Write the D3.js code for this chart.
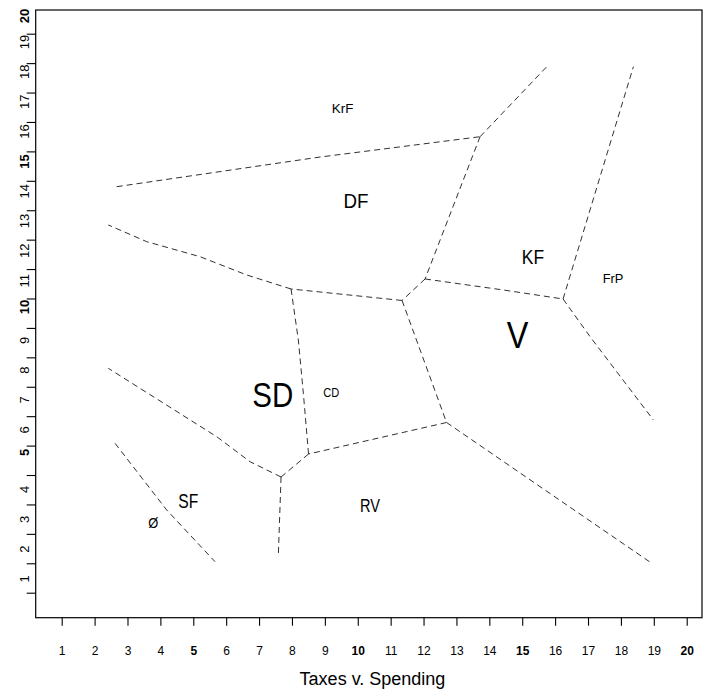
<!DOCTYPE html>
<html>
<head>
<meta charset="utf-8">
<script src="https://cdn.jsdelivr.net/npm/d3@7"></script>
<style>
  html, body { margin: 0; padding: 0; background: #fff; }
  svg { display: block; }
  text { font-family: "Liberation Sans", Arial, Helvetica, sans-serif; fill: #000; }
</style>
</head>
<body>
<svg id="chart" width="703" height="700"></svg>
<script>
// ---------- data (in axis units) ----------
const xTickValues = d3.range(1, 21);
const yTickValues = d3.range(1, 21);
const boldTicks = [5, 10, 15, 20];
const xTitle = "Taxes v. Spending";

// Voronoi-like party boundaries, each an array of [taxes, y] points
const edgeKrF_DF = [[2.672, 14.300], [8.793, 15.299], [13.718, 15.999]];
const edgeKrF_KF = [[13.718, 15.999], [15.746, 18.379]];
const edgeDF_KF  = [[13.718, 15.999], [12.046, 11.163]];
const edgeDF_V   = [[12.046, 11.163], [11.347, 10.432]];
const edgeKF_V   = [[12.046, 11.163], [14.427, 10.789], [16.242, 10.483]];
const edgeKF_FrP = [[16.242, 10.483], [18.379, 18.379]];
const edgeV_FrP  = [[16.242, 10.483], [17.063, 9.201], [18.987, 6.370]];
const edgeDF_CD  = [[11.347, 10.432], [7.972, 10.823]];
const edgeDF_SD  = [[7.972, 10.823], [6.625, 11.299], [5.205, 11.921], [3.584, 12.431], [2.417, 12.998]];
const edgeSD_CD  = [[7.972, 10.823], [8.194, 9.089], [8.346, 7.278], [8.504, 5.214]];
const edgeCD_V   = [[11.347, 10.432], [12.700, 6.285]];
const edgeCD_RV  = [[12.700, 6.285], [8.504, 5.214]];
const edgeV_RV   = [[12.700, 6.285], [18.939, 1.499]];
const edgeSD_RV  = [[8.504, 5.214], [7.668, 4.433]];
const edgeSF_RV  = [[7.668, 4.433], [7.586, 1.781]];
const edgeSD_SF  = [[7.668, 4.433], [6.725, 4.953], [5.713, 5.802], [2.417, 8.127]];
const edgeO_SF   = [[2.621, 5.578], [4.192, 3.311], [5.661, 1.554]];

const edges = [edgeKrF_DF, edgeKrF_KF, edgeDF_KF, edgeDF_V, edgeKF_V, edgeKF_FrP, edgeV_FrP,
               edgeDF_CD, edgeDF_SD, edgeSD_CD, edgeCD_V, edgeCD_RV, edgeV_RV, edgeSD_RV,
               edgeSF_RV, edgeSD_SF, edgeO_SF];

// party labels: name, position (axis units)
const partyNames = ["KrF", "DF", "KF", "FrP", "V", "SD", "CD", "SF", "RV", "Ø"];
const partyX     = [9.538, 9.948, 15.327, 17.762, 14.859, 7.418, 9.197, 4.849, 10.374, 3.785];
const partyY     = [16.805, 13.566, 11.673, 11.037, 8.807, 6.822, 7.162, 3.369, 3.253, 2.689];

// ---------- styles ----------
const labelStyle = {
  "KrF": { size: 12.5, width: 21.6 },
  "DF":  { size: 21,   width: 25 },
  "KF":  { size: 19.5, width: 22.3 },
  "FrP": { size: 13,   width: 20.7 },
  "V":   { size: 37,   width: 21.6 },
  "SD":  { size: 35,   width: 41 },
  "CD":  { size: 13.5, width: 16 },
  "SF":  { size: 20,   width: 20 },
  "RV":  { size: 18.6, width: 20 },
  "Ø":   { size: 14.5, width: 10 }
};

const box = { left: 35.7, top: 10, right: 702, bottom: 617.7 };

// ---------- scales ----------
const x = d3.scaleLinear().domain([1, 20]).range([61.7, 686.7]);
const y = d3.scaleLinear().domain([0.5, 19.5]).range([592.7, 33.7]);
// tick label placement scales (labels in the original are offset from the tick marks)
const yLab = d3.scaleLinear().domain([1, 19]).range([579, 42]);
const yLabBold = d3.scaleLinear().domain([5, 20]).range([452.5, 16]);

const svg = d3.select("#chart");

// frame
svg.append("rect")
  .attr("x", box.left).attr("y", box.top)
  .attr("width", box.right - box.left).attr("height", box.bottom - box.top)
  .attr("fill", "none").attr("stroke", "#000").attr("stroke-width", 1.2);

// x axis
const xAxis = d3.axisBottom(x).tickValues(xTickValues).tickSize(8).tickPadding(20.5)
  .tickFormat(d3.format("d"));
const gx = svg.append("g").attr("transform", `translate(0,${box.bottom})`).call(xAxis);
gx.select(".domain").remove();
gx.selectAll(".tick line").attr("stroke", "#000").attr("stroke-width", 1.1);
gx.selectAll(".tick text")
  .style("font-family", '"Liberation Sans", Arial, sans-serif')
  .style("font-size", "12px")
  .style("font-weight", d => boldTicks.includes(d) ? "bold" : "normal")
  .attr("fill", "#000");

// y axis ticks (marks at half units)
const yAxis = d3.axisLeft(y).tickValues(yTickValues.map(v => v - 0.5)).tickSize(9).tickFormat("");
const gy = svg.append("g").attr("transform", `translate(${box.left},0)`).call(yAxis);
gy.select(".domain").remove();
gy.selectAll(".tick line").attr("stroke", "#000").attr("stroke-width", 1.1);

// y tick labels, rotated
svg.append("g").selectAll("text")
  .data(yTickValues)
  .join("text")
  .attr("transform", d => `translate(28.5,${boldTicks.includes(d) ? yLabBold(d) : yLab(d)}) rotate(-90)`)
  .attr("text-anchor", "middle")
  .style("font-size", "13px")
  .style("font-weight", d => boldTicks.includes(d) ? "bold" : "normal")
  .text(d => d);

// x title
svg.append("text")
  .attr("x", 372.5).attr("y", 685)
  .attr("text-anchor", "middle")
  .style("font-size", "18px")
  .text(xTitle);

// boundaries
const line = d3.line().x(d => x(d[0])).y(d => y(d[1]));
svg.append("g").selectAll("path")
  .data(edges)
  .join("path")
  .attr("d", line)
  .attr("fill", "none")
  .attr("stroke", "#1a1a1a")
  .attr("stroke-width", 0.9)
  .attr("stroke-dasharray", "6,4");

// party labels
svg.append("g").selectAll("text")
  .data(partyNames.map((n, i) => ({ n, x: partyX[i], y: partyY[i] })))
  .join("text")
  .attr("x", d => x(d.x))
  .attr("y", d => y(d.y))
  .attr("text-anchor", "middle")
  .style("font-size", d => labelStyle[d.n].size + "px")
  .attr("textLength", d => labelStyle[d.n].width)
  .attr("lengthAdjust", "spacingAndGlyphs")
  .text(d => d.n);
</script>
</body>
</html>
